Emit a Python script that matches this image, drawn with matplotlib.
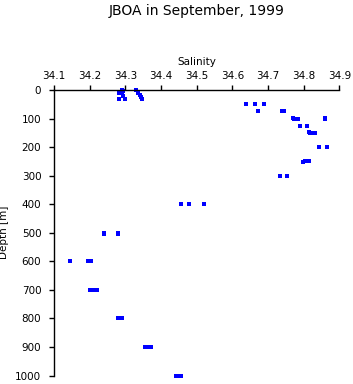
import matplotlib
matplotlib.use("Agg")
import matplotlib.pyplot as plt

title = "JBOA in September, 1999"
xlabel = "Salinity"
ylabel = "Depth [m]"
xticks = [34.1, 34.2, 34.3, 34.4, 34.5, 34.6, 34.7, 34.8, 34.9]
yticks = [0, 100, 200, 300, 400, 500, 600, 700, 800, 900, 1000]

salinity = [
    34.290, 34.330, 34.292,
    34.282, 34.291, 34.336,
    34.293, 34.341, 34.344,
    34.282, 34.299, 34.346,
    34.639, 34.664, 34.689,
    34.672, 34.740, 34.745,
    34.771, 34.773, 34.785, 34.858, 34.860,
    34.789, 34.808,
    34.814, 34.816, 34.826, 34.831,
    34.842, 34.866,
    34.798, 34.803, 34.815,
    34.733, 34.754,
    34.457, 34.477, 34.521,
    34.240, 34.241, 34.279, 34.280,
    34.146, 34.196, 34.204,
    34.202, 34.212, 34.220,
    34.279, 34.285, 34.290,
    34.355, 34.365, 34.373,
    34.443, 34.450, 34.457,
]
depth = [
    0, 0, 5,
    10, 10, 10,
    20, 17, 24,
    30, 30, 31,
    50, 50, 50,
    75, 75, 75,
    98, 103, 100, 98, 102,
    125, 127,
    148, 152, 150, 150,
    200, 200,
    251, 249, 250,
    300, 300,
    400, 400, 400,
    500, 504, 500, 504,
    600, 600, 600,
    700, 700, 700,
    800, 800, 798,
    900, 900, 900,
    1000, 1000, 1000,
]

fig = plt.figure(figsize=(3.53, 3.84), dpi=100)
plt.rcParams['font.family'] = ['DejaVu Sans']
ax = fig.add_axes([54/353, 1 - 375.5/384, (339.5 - 54)/353, (375.5 - 90)/384])

ax.plot(salinity, depth, linestyle='none', marker='s', markersize=2.3,
        markeredgewidth=0, color='#0000ff', clip_on=False)

ax.set_xlim(34.1, 34.9)
ax.set_ylim(1000, 0)
ax.set_xticks(xticks)
ax.set_xticklabels([f"{v:.1f}" for v in xticks])
ax.set_yticks(yticks)
ax.set_yticklabels([str(v) for v in yticks])
ax.xaxis.tick_top()
ax.xaxis.set_label_position('top')
ax.spines['right'].set_visible(False)
ax.spines['bottom'].set_visible(False)
ax.spines['top'].set_linewidth(1.0)
ax.spines['left'].set_linewidth(1.0)
ax.tick_params(axis='x', direction='out', length=3.6, width=1.0, pad=3.0, labelsize=7.5)
ax.tick_params(axis='y', direction='out', length=3.6, width=1.0, pad=5.5, labelsize=7.5)
ax.set_xlabel(xlabel, fontsize=7.5, labelpad=4)
ax.set_ylabel(ylabel, fontsize=7.5)
ax.yaxis.set_label_coords(-(54 - 9) / (339.5 - 54), 0.5)

fig.text((54 + 339.5) / 2 / 353, 1 - 11/384, title, ha='center', va='center', fontsize=10)

fig.savefig("out.png", dpi=100)
